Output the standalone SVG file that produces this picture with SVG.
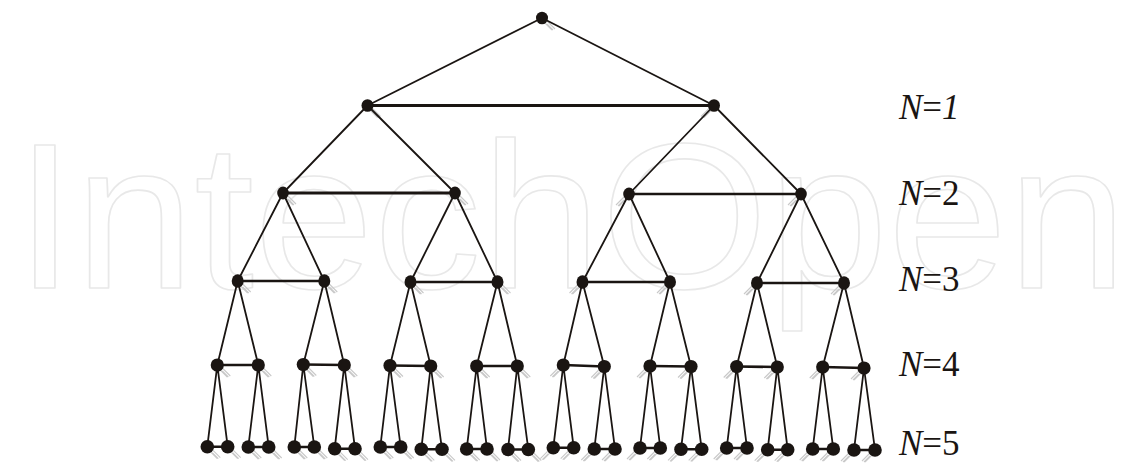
<svg xmlns="http://www.w3.org/2000/svg" xmlns:xlink="http://www.w3.org/1999/xlink" width="1145" height="463" viewBox="0 0 1145 463">
<style>
.wm{font-family:"Liberation Sans",Arial,sans-serif;font-size:208px;fill:none;stroke:#e8e8e8;stroke-width:1.6;stroke-linejoin:round}
.e{stroke:#1a1512;stroke-width:1.8;fill:none;stroke-linecap:round}
.s{stroke:#1a1512;stroke-width:2.6;fill:none}
.s3{stroke:#1a1512;stroke-width:3.2;fill:none}
.n{fill:#1a1512}
.h{stroke:#c9c9c9;stroke-width:1.1;fill:none}
.lab{font-family:"Liberation Serif","Times New Roman","DejaVu Serif",serif;font-size:35px;fill:#1a1512}
</style>
<defs>
<g id="hr"><path class="h" d="M2,4 L10,12 M4,2 L13,11 M5,6 L11,12"/></g>
<g id="hl"><path class="h" d="M-2,4 L-10,12 M-4,2 L-13,11 M-5,6 L-11,12"/></g>
</defs>
<text class="wm" x="15" y="288" textLength="1112" lengthAdjust="spacingAndGlyphs">IntechOpen</text>

<g id="hatches">
<use xlink:href="#hr" x="542" y="18"/>
<use xlink:href="#hr" x="367.5" y="105.5"/><use xlink:href="#hl" x="714" y="105.5"/>
<use xlink:href="#hr" x="283" y="193"/><use xlink:href="#hr" x="455" y="193"/><use xlink:href="#hl" x="629" y="194"/><use xlink:href="#hl" x="801" y="194"/>
<use xlink:href="#hr" x="237.7" y="281"/><use xlink:href="#hr" x="324.3" y="281"/><use xlink:href="#hr" x="410.5" y="282"/><use xlink:href="#hr" x="497.5" y="282"/>
<use xlink:href="#hl" x="582.5" y="282"/><use xlink:href="#hl" x="670" y="282"/><use xlink:href="#hl" x="757" y="283"/><use xlink:href="#hl" x="844" y="283"/>
<use xlink:href="#hr" x="217.3" y="365"/><use xlink:href="#hr" x="258.3" y="365"/><use xlink:href="#hr" x="303.3" y="364.5"/><use xlink:href="#hr" x="344.3" y="365"/>
<use xlink:href="#hr" x="390" y="365.5"/><use xlink:href="#hr" x="430.7" y="366"/><use xlink:href="#hr" x="476.7" y="366"/><use xlink:href="#hr" x="517.3" y="366"/>
<use xlink:href="#hl" x="563.3" y="365"/><use xlink:href="#hl" x="604.3" y="366.5"/><use xlink:href="#hl" x="650" y="366"/><use xlink:href="#hl" x="691" y="366.5"/>
<use xlink:href="#hl" x="736.7" y="366.5"/><use xlink:href="#hl" x="777.3" y="367"/><use xlink:href="#hl" x="822.7" y="367"/><use xlink:href="#hl" x="864" y="368"/>
<use xlink:href="#hr" x="207.3" y="446.7"/><use xlink:href="#hr" x="227.7" y="446.7"/><use xlink:href="#hr" x="248.3" y="447"/><use xlink:href="#hr" x="268.7" y="447"/>
<use xlink:href="#hr" x="294.3" y="447"/><use xlink:href="#hr" x="314.3" y="447"/><use xlink:href="#hr" x="334.7" y="448.7"/><use xlink:href="#hr" x="355" y="448.7"/>
<use xlink:href="#hr" x="380.3" y="447"/><use xlink:href="#hr" x="400.7" y="447"/><use xlink:href="#hr" x="421.3" y="449.3"/><use xlink:href="#hr" x="442" y="449.3"/>
<use xlink:href="#hr" x="466.7" y="449"/><use xlink:href="#hr" x="487" y="449"/><use xlink:href="#hr" x="508" y="449.5"/><use xlink:href="#hr" x="528.3" y="449.5"/>
<use xlink:href="#hl" x="553.3" y="447.7"/><use xlink:href="#hl" x="573.7" y="447.7"/><use xlink:href="#hl" x="594.3" y="449"/><use xlink:href="#hl" x="615" y="449"/>
<use xlink:href="#hl" x="640" y="448"/><use xlink:href="#hl" x="660.3" y="448"/><use xlink:href="#hl" x="681" y="449.3"/><use xlink:href="#hl" x="701.7" y="449.3"/>
<use xlink:href="#hl" x="726.7" y="448"/><use xlink:href="#hl" x="747" y="448"/><use xlink:href="#hl" x="767.7" y="449.7"/><use xlink:href="#hl" x="787.7" y="449.7"/>
<use xlink:href="#hl" x="812.7" y="449"/><use xlink:href="#hl" x="833.3" y="449"/><use xlink:href="#hl" x="854" y="450"/><use xlink:href="#hl" x="875" y="450"/>
</g>

<g id="connectors">
<path class="e" d="M542,18 L367.5,105.5 M542,18 L714,105.5
M367.5,105.5 L283,193 M367.5,105.5 L455,193 M714,105.5 L629,194 M714,105.5 L801,194
M283,193 L237.7,281 M283,193 L324.3,281 M455,193 L410.5,282 M455,193 L497.5,282
M629,194 L582.5,282 M629,194 L670,282 M801,194 L757,283 M801,194 L844,283
M237.7,281 L217.3,365 M237.7,281 L258.3,365 M324.3,281 L303.3,364.5 M324.3,281 L344.3,365
M410.5,282 L390,365.5 M410.5,282 L430.7,366 M497.5,282 L476.7,366 M497.5,282 L517.3,366
M582.5,282 L563.3,365 M582.5,282 L604.3,366.5 M670,282 L650,366 M670,282 L691,366.5
M757,283 L736.7,366.5 M757,283 L777.3,367 M844,283 L822.7,367 M844,283 L864,368
M217.3,365 L207.3,446.7 M217.3,365 L227.7,446.7 M258.3,365 L248.3,447 M258.3,365 L268.7,447
M303.3,364.5 L294.3,447 M303.3,364.5 L314.3,447 M344.3,365 L334.7,448.7 M344.3,365 L355,448.7
M390,365.5 L380.3,447 M390,365.5 L400.7,447 M430.7,366 L421.3,449.3 M430.7,366 L442,449.3
M476.7,366 L466.7,449 M476.7,366 L487,449 M517.3,366 L508,449.5 M517.3,366 L528.3,449.5
M563.3,365 L553.3,447.7 M563.3,365 L573.7,447.7 M604.3,366.5 L594.3,449 M604.3,366.5 L615,449
M650,366 L640,448 M650,366 L660.3,448 M691,366.5 L681,449.3 M691,366.5 L701.7,449.3
M736.7,366.5 L726.7,448 M736.7,366.5 L747,448 M777.3,367 L767.7,449.7 M777.3,367 L787.7,449.7
M822.7,367 L812.7,449 M822.7,367 L833.3,449 M864,368 L854,450 M864,368 L875,450"/>
<path class="s3" d="M367.5,105.5 L714,105.5 M283,193 L455,193"/>
<path class="s" d="M629,194 L801,194
M237.7,281 L324.3,281 M410.5,282 L497.5,282 M582.5,282 L670,282 M757,283 L844,283
M217.3,365 L258.3,365 M303.3,364.5 L344.3,365 M390,365.5 L430.7,366 M476.7,366 L517.3,366
M563.3,365 L604.3,366.5 M650,366 L691,366.5 M736.7,366.5 L777.3,367 M822.7,367 L864,368
M207.3,446.7 L227.7,446.7 M248.3,447 L268.7,447 M294.3,447 L314.3,447 M334.7,448.7 L355,448.7
M380.3,447 L400.7,447 M421.3,449.3 L442,449.3 M466.7,449 L487,449 M508,449.5 L528.3,449.5
M553.3,447.7 L573.7,447.7 M594.3,449 L615,449 M640,448 L660.3,448 M681,449.3 L701.7,449.3
M726.7,448 L747,448 M767.7,449.7 L787.7,449.7 M812.7,449 L833.3,449 M854,450 L875,450"/>
</g>

<g id="nodes-L0"><ellipse id="n0" class="n" cx="542" cy="18" rx="6" ry="6.3"/></g>
<g id="nodes-L1">
<ellipse id="n1a" class="n" cx="367.5" cy="105.5" rx="6" ry="6.3"/>
<ellipse id="n1b" class="n" cx="714" cy="105.5" rx="6" ry="6.3"/>
</g>
<g id="nodes-L2">
<ellipse id="n2a" class="n" cx="283" cy="193" rx="5.8" ry="6.5"/>
<ellipse id="n2b" class="n" cx="455" cy="193" rx="5.8" ry="6.5"/>
<ellipse id="n2c" class="n" cx="629" cy="194" rx="5.8" ry="6.5"/>
<ellipse id="n2d" class="n" cx="801" cy="194" rx="5.8" ry="6.5"/>
</g>
<g id="nodes-L3">
<ellipse id="n3a" class="n" cx="237.7" cy="281" rx="6" ry="6.8"/>
<ellipse id="n3b" class="n" cx="324.3" cy="281" rx="6" ry="6.8"/>
<ellipse id="n3c" class="n" cx="410.5" cy="282" rx="6" ry="6.8"/>
<ellipse id="n3d" class="n" cx="497.5" cy="282" rx="6" ry="6.8"/>
<ellipse id="n3e" class="n" cx="582.5" cy="282" rx="6" ry="6.8"/>
<ellipse id="n3f" class="n" cx="670" cy="282" rx="6" ry="6.8"/>
<ellipse id="n3g" class="n" cx="757" cy="283" rx="6" ry="6.8"/>
<ellipse id="n3h" class="n" cx="844" cy="283" rx="6" ry="6.8"/>
</g>
<g id="nodes-L4">
<circle class="n" cx="217.3" cy="365" r="6.6"/><circle class="n" cx="258.3" cy="365" r="6.6"/>
<circle class="n" cx="303.3" cy="364.5" r="6.6"/><circle class="n" cx="344.3" cy="365" r="6.6"/>
<circle class="n" cx="390" cy="365.5" r="6.6"/><circle class="n" cx="430.7" cy="366" r="6.6"/>
<circle class="n" cx="476.7" cy="366" r="6.6"/><circle class="n" cx="517.3" cy="366" r="6.6"/>
<circle class="n" cx="563.3" cy="365" r="6.6"/><circle class="n" cx="604.3" cy="366.5" r="6.6"/>
<circle class="n" cx="650" cy="366" r="6.6"/><circle class="n" cx="691" cy="366.5" r="6.6"/>
<circle class="n" cx="736.7" cy="366.5" r="6.6"/><circle class="n" cx="777.3" cy="367" r="6.6"/>
<circle class="n" cx="822.7" cy="367" r="6.6"/><circle class="n" cx="864" cy="368" r="6.6"/>
</g>
<g id="nodes-L5">
<circle class="n" cx="207.3" cy="446.7" r="6.8"/><circle class="n" cx="227.7" cy="446.7" r="6.8"/>
<circle class="n" cx="248.3" cy="447" r="6.8"/><circle class="n" cx="268.7" cy="447" r="6.8"/>
<circle class="n" cx="294.3" cy="447" r="6.8"/><circle class="n" cx="314.3" cy="447" r="6.8"/>
<circle class="n" cx="334.7" cy="448.7" r="6.8"/><circle class="n" cx="355" cy="448.7" r="6.8"/>
<circle class="n" cx="380.3" cy="447" r="6.8"/><circle class="n" cx="400.7" cy="447" r="6.8"/>
<circle class="n" cx="421.3" cy="449.3" r="6.8"/><circle class="n" cx="442" cy="449.3" r="6.8"/>
<circle class="n" cx="466.7" cy="449" r="6.8"/><circle class="n" cx="487" cy="449" r="6.8"/>
<circle class="n" cx="508" cy="449.5" r="6.8"/><circle class="n" cx="528.3" cy="449.5" r="6.8"/>
<circle class="n" cx="553.3" cy="447.7" r="6.8"/><circle class="n" cx="573.7" cy="447.7" r="6.8"/>
<circle class="n" cx="594.3" cy="449" r="6.8"/><circle class="n" cx="615" cy="449" r="6.8"/>
<circle class="n" cx="640" cy="448" r="6.8"/><circle class="n" cx="660.3" cy="448" r="6.8"/>
<circle class="n" cx="681" cy="449.3" r="6.8"/><circle class="n" cx="701.7" cy="449.3" r="6.8"/>
<circle class="n" cx="726.7" cy="448" r="6.8"/><circle class="n" cx="747" cy="448" r="6.8"/>
<circle class="n" cx="767.7" cy="449.7" r="6.8"/><circle class="n" cx="787.7" cy="449.7" r="6.8"/>
<circle class="n" cx="812.7" cy="449" r="6.8"/><circle class="n" cx="833.3" cy="449" r="6.8"/>
<circle class="n" cx="854" cy="450" r="6.8"/><circle class="n" cx="875" cy="450" r="6.8"/>
</g>

<g id="labels">
<text class="lab" x="899" y="119"><tspan font-style="italic">N</tspan>=<tspan font-style="italic">1</tspan></text>
<text class="lab" x="899" y="205"><tspan font-style="italic">N</tspan>=2</text>
<text class="lab" x="899" y="291"><tspan font-style="italic">N</tspan>=3</text>
<text class="lab" x="899" y="375.5"><tspan font-style="italic">N</tspan>=4</text>
<text class="lab" x="899" y="455"><tspan font-style="italic">N</tspan>=5</text>
</g>
</svg>
